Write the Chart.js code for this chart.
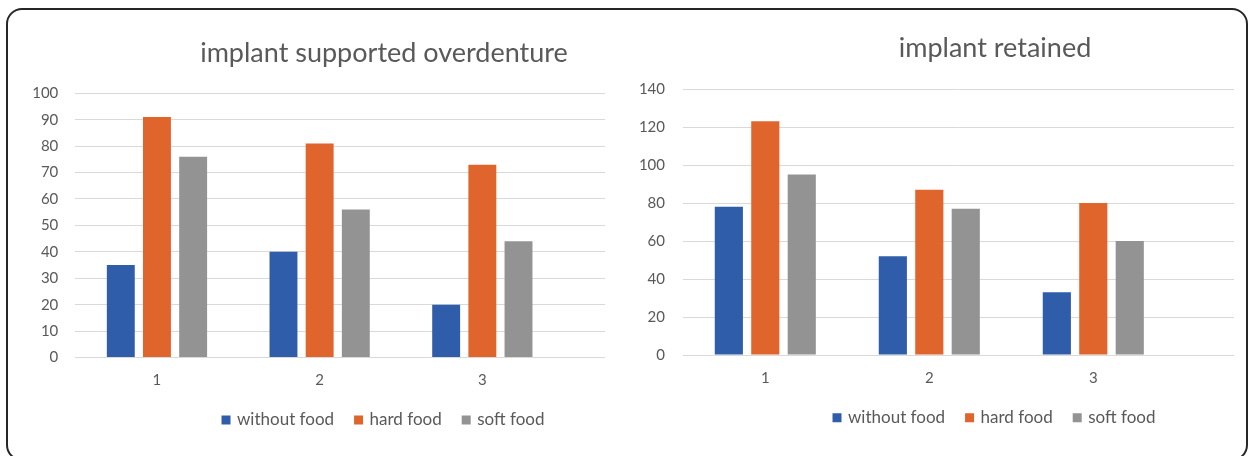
<!DOCTYPE html>
<html>
<head>
<meta charset="utf-8">
<script src="https://cdn.jsdelivr.net/npm/chart.js@4"></script>
<style>
  html, body { margin: 0; padding: 0; background: #ffffff; width: 1253px; height: 456px; overflow: hidden; }
  #wrap { position: relative; width: 1253px; height: 456px; overflow: hidden; }
  canvas { position: absolute; top: 0; }
  #frame {
    position: absolute; left: 6px; top: 8px; width: 1238px; height: 449px;
    border: 2px solid #262626; border-radius: 16px; pointer-events: none;
  }
</style>
</head>
<body>
<div id="wrap">
  <canvas id="overdenture" width="768" height="456" style="left:0px"></canvas>
  <canvas id="retained" width="750" height="456" style="left:620px"></canvas>
  <div id="frame"></div>
</div>
<script>
// Categories and series shared by both panels
const categories = ['1', '2', '3'];
const seriesNames = ['without food', 'hard food', 'soft food'];

// Panel 1: implant supported overdenture
const overdentureTitle = 'implant supported overdenture';
const overdentureWithout = [35, 40, 20];
const overdentureHard = [91, 81, 73];
const overdentureSoft = [76, 56, 44];
const overdentureAxisMax = 100;
const overdentureAxisStep = 10;

// Panel 2: implant retained
const retainedTitle = 'implant retained';
const retainedWithout = [78, 52, 33];
const retainedHard = [123, 87, 80];
const retainedSoft = [95, 77, 60];
const retainedAxisMax = 140;
const retainedAxisStep = 20;

const seriesColors = ['#2F5DAA', '#E0652D', '#939393'];
const textColor = '#595959';
const gridColor = '#d9d9d9';

Chart.defaults.font.family = 'Lato, "Open Sans", sans-serif';
Chart.defaults.color = textColor;

function buildChart(canvasId, cfg) {
  const seriesValues = cfg.series;
  const datasets = seriesValues.map((values, s) => ({
    label: seriesNames[s],
    data: values.map((v, i) => ({ x: Number(categories[i]), y: v })),
    backgroundColor: seriesColors[s],
    borderWidth: 0,
    categoryPercentage: 0.667,
    barPercentage: 0.772,
    xAxisID: 'x',
    yAxisID: 'y'
  }));

  return new Chart(document.getElementById(canvasId), {
    type: 'bar',
    data: { labels: categories, datasets },
    options: {
      responsive: false,
      animation: false,
      devicePixelRatio: 1,
      layout: { padding: { top: 0, left: 0, right: 0, bottom: cfg.bottomPad } },
      plugins: {
        tooltip: { enabled: false },
        title: {
          display: true,
          text: cfg.title,
          color: textColor,
          font: { size: 27, weight: 'normal' },
          padding: { top: cfg.titleTop, bottom: cfg.titleBottom }
        },
        legend: {
          position: 'bottom',
          labels: {
            usePointStyle: true,
            pointStyle: 'rect',
            boxWidth: 5,
            boxHeight: 9,
            padding: 22,
            color: textColor,
            font: { size: 17 }
          }
        }
      },
      scales: {
        x: {
          type: 'linear',
          position: 'bottom',
          offset: false,
          min: cfg.xMin,
          max: cfg.xMax,
          grid: { display: false, drawTicks: false },
          border: { display: false },
          ticks: { padding: cfg.xTickPad, color: textColor, font: { size: 15 } },
          afterBuildTicks: (scale) => {
            scale.ticks = categories.map(c => ({ value: Number(c) }));
          },
          afterFit: (scale) => { scale.height = cfg.xAxisHeight; }
        },
        y: {
          position: 'left',
          min: 0,
          max: cfg.yMax,
          grid: { color: gridColor, lineWidth: 1, drawTicks: false },
          border: { display: false },
          ticks: { stepSize: cfg.yStep, padding: cfg.yTickPad, color: textColor, font: { size: 15 } },
          afterFit: (scale) => { scale.width = cfg.yAxisWidth; }
        },
        // empty spacer on the right so title and legend centre over the whole panel
        spacer: {
          type: 'linear',
          position: 'right',
          display: true,
          grid: { display: false, drawTicks: false },
          border: { display: false },
          ticks: { display: false },
          afterFit: (scale) => { scale.width = cfg.spacerWidth; }
        }
      }
    }
  });
}

buildChart('overdenture', {
  title: overdentureTitle,
  series: [overdentureWithout, overdentureHard, overdentureSoft],
  yMax: overdentureAxisMax,
  yStep: overdentureAxisStep,
  titleTop: 37.1,
  titleBottom: 23.8,
  bottomPad: 17.5,
  xAxisHeight: 32,
  xTickPad: 13.5,
  yAxisWidth: 75.3,
  yTickPad: 17,
  spacerWidth: 163,
  xMin: 0.498,
  xMax: 3.754
});

buildChart('retained', {
  title: retainedTitle,
  series: [retainedWithout, retainedHard, retainedSoft],
  yMax: retainedAxisMax,
  yStep: retainedAxisStep,
  titleTop: 32.1,
  titleBottom: 24.5,
  bottomPad: 19.8,
  xAxisHeight: 32.2,
  xTickPad: 14.3,
  yAxisWidth: 63.3,
  yTickPad: 18.3,
  spacerWidth: 136,
  xMin: 0.5,
  xMax: 3.858
});
</script>
</body>
</html>
